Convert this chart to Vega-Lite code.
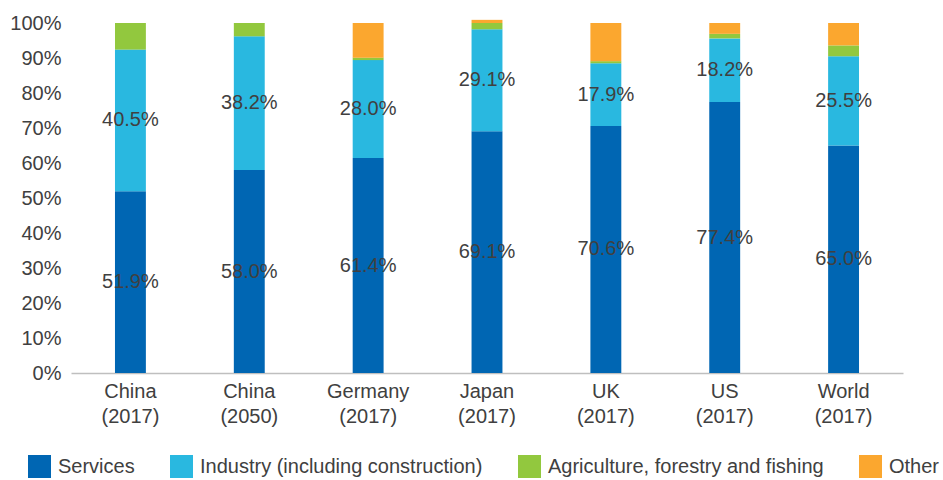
{
  "$schema": "https://vega.github.io/schema/vega-lite/v6.json",
  "autosize": "none",
  "width": 832,
  "height": 350,
  "padding": {"left": 71, "top": 23, "right": 40, "bottom": 107},
  "config": {
    "view": {"stroke": null},
    "font": "Liberation Sans",
    "axis": {"grid": false, "labelFont": "Liberation Sans", "labelFontSize": 20, "labelColor": "#404040", "titleColor": "#404040"},
    "legend": {"labelFont": "Liberation Sans"}
  },
  "data": {"values": [
    {"country": "China (2017)", "sector": "Services", "o": 1, "value": 0.519},
    {"country": "China (2017)", "sector": "Industry (including construction)", "o": 2, "value": 0.405},
    {"country": "China (2017)", "sector": "Agriculture, forestry and fishing", "o": 3, "value": 0.076},
    {"country": "China (2017)", "sector": "Other", "o": 4, "value": 0.0},
    {"country": "China (2050)", "sector": "Services", "o": 1, "value": 0.580},
    {"country": "China (2050)", "sector": "Industry (including construction)", "o": 2, "value": 0.382},
    {"country": "China (2050)", "sector": "Agriculture, forestry and fishing", "o": 3, "value": 0.038},
    {"country": "China (2050)", "sector": "Other", "o": 4, "value": 0.0},
    {"country": "Germany (2017)", "sector": "Services", "o": 1, "value": 0.614},
    {"country": "Germany (2017)", "sector": "Industry (including construction)", "o": 2, "value": 0.280},
    {"country": "Germany (2017)", "sector": "Agriculture, forestry and fishing", "o": 3, "value": 0.007},
    {"country": "Germany (2017)", "sector": "Other", "o": 4, "value": 0.099},
    {"country": "Japan (2017)", "sector": "Services", "o": 1, "value": 0.691},
    {"country": "Japan (2017)", "sector": "Industry (including construction)", "o": 2, "value": 0.291},
    {"country": "Japan (2017)", "sector": "Agriculture, forestry and fishing", "o": 3, "value": 0.018},
    {"country": "Japan (2017)", "sector": "Other", "o": 4, "value": 0.009},
    {"country": "UK (2017)", "sector": "Services", "o": 1, "value": 0.706},
    {"country": "UK (2017)", "sector": "Industry (including construction)", "o": 2, "value": 0.179},
    {"country": "UK (2017)", "sector": "Agriculture, forestry and fishing", "o": 3, "value": 0.006},
    {"country": "UK (2017)", "sector": "Other", "o": 4, "value": 0.109},
    {"country": "US (2017)", "sector": "Services", "o": 1, "value": 0.774},
    {"country": "US (2017)", "sector": "Industry (including construction)", "o": 2, "value": 0.182},
    {"country": "US (2017)", "sector": "Agriculture, forestry and fishing", "o": 3, "value": 0.013},
    {"country": "US (2017)", "sector": "Other", "o": 4, "value": 0.031},
    {"country": "World (2017)", "sector": "Services", "o": 1, "value": 0.650},
    {"country": "World (2017)", "sector": "Industry (including construction)", "o": 2, "value": 0.255},
    {"country": "World (2017)", "sector": "Agriculture, forestry and fishing", "o": 3, "value": 0.031},
    {"country": "World (2017)", "sector": "Other", "o": 4, "value": 0.064}
  ]},
  "transform": [
    {"stack": "value", "groupby": ["country"], "sort": [{"field": "o", "order": "ascending"}], "as": ["v0", "v1"], "offset": "zero"},
    {"calculate": "(datum.v0 + datum.v1) / 2", "as": "vmid"}
  ],
  "encoding": {
    "x": {
      "field": "country", "type": "nominal", "sort": null, "title": null,
      "scale": {"paddingInner": 0.74, "paddingOuter": 0.37},
      "axis": {"labelAngle": 0, "ticks": false, "domainColor": "#bfbfbf", "domainWidth": 1.5, "labelPadding": 8, "labelLineHeight": 25, "labelExpr": "split(datum.label, ' ')"}
    }
  },
  "layer": [
    {
      "mark": {"type": "bar", "clip": false},
      "encoding": {
        "y": {
          "field": "v0", "type": "quantitative", "title": null,
          "scale": {"domain": [0, 1], "nice": false},
          "axis": {"format": ".0%", "values": [0, 0.1, 0.2, 0.3, 0.4, 0.5, 0.6, 0.7, 0.8, 0.9, 1.0], "domain": false, "ticks": false, "labelPadding": 10}
        },
        "y2": {"field": "v1"},
        "color": {
          "field": "sector", "type": "nominal", "title": null,
          "scale": {
            "domain": ["Services", "Industry (including construction)", "Agriculture, forestry and fishing", "Other"],
            "range": ["#0066b3", "#29b8e0", "#92c83e", "#fba72f"]
          },
          "legend": {
            "orient": "none", "legendX": -43, "legendY": 432, "direction": "horizontal", "symbolType": "square", "symbolSize": 529,
            "symbolStrokeWidth": 0, "symbolOpacity": 1, "labelFontSize": 20, "labelColor": "#404040",
            "labelOffset": 7, "columnPadding": 35, "labelLimit": 400
          }
        }
      }
    },
    {
      "transform": [{"filter": {"field": "sector", "oneOf": ["Services", "Industry (including construction)"]}}],
      "mark": {"type": "text", "fontSize": 20, "color": "#404040"},
      "encoding": {
        "y": {
          "field": "vmid", "type": "quantitative", "title": null,
          "scale": {"domain": [0, 1], "nice": false},
          "axis": {"format": ".0%", "values": [0, 0.1, 0.2, 0.3, 0.4, 0.5, 0.6, 0.7, 0.8, 0.9, 1.0], "domain": false, "ticks": false, "labelPadding": 10}
        },
        "text": {"field": "value", "type": "quantitative", "format": ".1%"}
      }
    }
  ]
}
